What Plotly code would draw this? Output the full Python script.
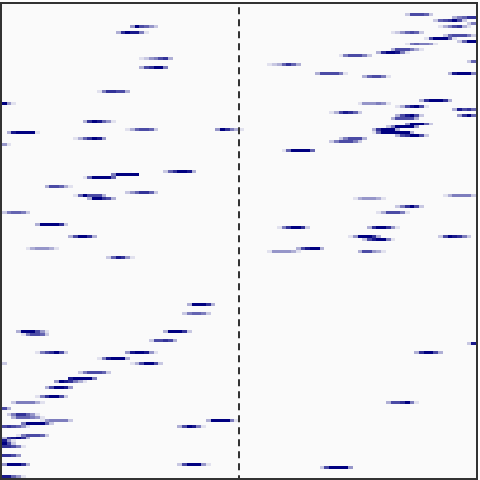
import numpy as np
import plotly.graph_objects as go

N_ROWS = 160
N_COLS = 100

# streaks: row index, starting column, intensity levels (0-10) along the row
streak_rows = [7, 9, 18, 21, 29, 33, 39, 42, 43, 45, 47, 42, 20, 23, 49,
               3, 4, 5, 6, 7, 9, 10, 11, 12, 13, 15, 16, 17, 19, 23, 24,
               32, 33, 34, 35, 36, 37, 37, 38, 40, 41, 42, 43, 44, 45, 46,
               64, 65, 68, 70, 75, 75, 78, 78, 79, 82, 83, 83,
               114, 117, 134, 156,
               56, 57, 58, 61, 63, 64, 65, 70, 74, 78, 82, 85,
               101, 104, 110, 110, 111, 113, 117, 117, 119, 121, 121, 124, 126,
               127, 129, 132, 134, 136, 138, 139, 140, 140, 141, 142, 142, 145,
               146, 147, 148, 149, 152, 155, 155, 159]
streak_cols = [27, 24, 29, 29, 20, 0, 17, 26, 1, 15, 0, 45, 56, 66, 59,
               85, 95, 91, 98, 92, 82, 93, 89, 96, 85, 82, 79, 71, 98, 94, 76,
               88, 75, 83, 95, 69, 83, 96, 82, 85, 81, 78, 78, 83, 71, 69,
               93, 74, 83, 79, 58, 77, 73, 92, 76, 62, 56, 75,
               98, 87, 81, 67,
               34, 23, 17, 9, 26, 15, 18, 0, 7, 14, 5, 22,
               39, 38, 34, 3, 4, 31, 7, 26, 20, 0, 27, 16, 14,
               11, 9, 7, 2, 0, 1, 2, 8, 43, 4, 37, 0, 3,
               0, 0, 0, 0, 0, 0, 37, 0]
streak_levels = [
    [4, 10, 7, 6, 4, 2], [3, 8, 10, 9, 9, 5, 1], [1, 2, 4, 5, 7, 8, 3],
    [3, 7, 8, 10, 10, 5], [1, 5, 8, 8, 7, 7, 3], [10, 4, 1],
    [3, 8, 10, 9, 6, 4, 1], [1, 3, 6, 7, 7, 6, 2], [3, 9, 10, 10, 10, 10, 1],
    [1, 3, 6, 8, 10, 9, 4], [4, 1], [4, 10, 8, 5, 3, 1],
    [1, 2, 3, 6, 8, 6, 3], [3, 7, 7, 7, 7, 5, 1], [1, 6, 10, 10, 10, 10, 6],
    [2, 7, 7, 7, 6, 2], [3, 5, 6, 8, 8], [2, 6, 7, 8, 10, 7, 2], [2, 5],
    [1, 3, 5, 7, 8, 3, 1], [1, 2, 4, 6, 7, 6, 2], [2, 6, 7, 7, 7, 5, 2],
    [1, 7, 10, 10, 10, 6, 1], [2, 6, 10, 10], [1, 5, 6, 5, 5, 4, 1],
    [3, 7, 7, 7, 5, 3, 1], [3, 8, 10, 10, 9, 5, 1], [1, 5, 7, 7, 7, 5, 2],
    [2, 6], [3, 9, 10, 10, 10, 5], [3, 6, 7, 7, 5, 1],
    [3, 8, 10, 10, 10, 8, 3], [1, 4, 4, 4, 5, 4, 1], [1, 3, 7, 9, 10, 7, 1],
    [3, 9, 7, 8, 6], [1, 3, 7, 9, 8, 6, 2], [3, 7, 9, 10, 7, 2], [4, 8, 10, 6],
    [3, 7, 7, 7, 7, 3], [4, 10, 10, 10, 6, 2], [2, 5, 10, 10, 10, 10, 4],
    [3, 8, 10, 10, 10, 3], [1, 6, 10, 10, 10, 10, 10, 10, 3],
    [3, 7, 8, 10, 10, 7, 2], [2, 5, 7, 7, 7, 3], [2, 5, 7, 7, 7, 5, 2],
    [1, 3, 5, 5, 5, 5, 2], [1, 3, 4, 4, 4, 3, 1], [2, 5, 8, 10, 7, 2],
    [1, 3, 7, 7, 7, 5, 1], [1, 5, 8, 10, 10, 8, 2], [3, 8, 10, 10, 8, 4, 1],
    [1, 4, 10, 10, 10, 8, 3], [2, 7, 10, 9, 8, 5, 2], [2, 7, 9, 10, 10, 5, 1],
    [3, 7, 9, 10, 10, 3], [1, 4, 4, 4, 4, 3, 1], [3, 7, 7, 4, 3, 1],
    [2, 9], [3, 8, 10, 10, 7, 3], [3, 7, 7, 8, 10, 5, 1], [2, 7, 10, 10, 10, 10, 4],
    [2, 6, 8, 10, 10, 9, 3], [5, 10, 10, 10, 10, 10], [1, 6, 10, 10, 10, 10, 6],
    [3, 7, 7, 6, 3, 1], [2, 4, 6, 8, 8, 6, 2], [1, 6, 10, 7, 7, 7, 3],
    [3, 10, 10, 8, 7, 3], [2, 5, 6, 6, 5, 2], [3, 10, 10, 10, 10, 8, 2],
    [3, 7, 10, 10, 8, 3], [1, 3, 4, 4, 4, 3, 1], [2, 6, 9, 8, 4, 1],
    [3, 10, 10, 10, 8, 3], [2, 5, 6, 6, 5, 2], [3, 10, 10, 10, 8, 2],
    [3, 10, 10, 10, 7, 4, 1], [1, 5, 7, 7, 6, 2], [2, 7, 7, 8, 7, 3],
    [1, 5, 7, 8, 10, 7, 2], [4, 9, 10, 10, 9, 4, 1], [1, 5, 9, 10, 10, 10, 3],
    [2], [1, 3, 7, 10, 10, 7, 2], [2, 5, 7, 7, 7, 6, 2], [9, 10, 10, 10, 10, 5],
    [4, 10, 9, 8, 5, 3, 1], [3, 7, 10, 10, 9, 4], [1, 5, 8, 10, 10, 7, 2],
    [2, 5, 5, 5, 5, 3, 1], [7, 3], [2, 5, 8, 8, 6, 4, 1], [3, 6, 6, 6, 5, 4, 1],
    [1, 4, 5, 5, 5, 5, 2], [3, 10, 10, 10, 10, 5, 1], [5, 10, 10, 10, 10, 6, 2],
    [3, 7, 10, 9, 5, 1], [7, 8, 7, 6, 4, 1], [1, 5, 7, 7, 7, 6, 2],
    [3, 8, 9, 10, 8, 3], [9, 4, 1], [10, 7, 2], [8, 8, 7, 5, 1], [8, 8, 7, 4],
    [4, 10, 10, 10, 8, 3], [2, 7, 10, 10, 10, 4, 1], [9, 9, 6, 4, 1],
]

divider_col = 49.5

z = np.zeros((N_ROWS, N_COLS))
for r, c, lv in zip(streak_rows, streak_cols, streak_levels):
    for k, v in enumerate(lv):
        if 0 <= c + k < N_COLS:
            z[r, c + k] = max(z[r, c + k], v / 10.0)

fig = go.Figure(go.Heatmap(
    z=z,
    x=list(range(N_COLS)),
    y=list(range(N_ROWS)),
    colorscale=[[0, '#fafafa'], [1, '#000080']],
    zmin=0, zmax=1,
    showscale=False,
    zsmooth=False,
    hoverinfo='skip',
))

fig.add_shape(type='line', xref='x', yref='y',
              x0=divider_col, x1=divider_col, y0=-3.42, y1=N_ROWS - 0.5,
              line=dict(color='#333333', width=2, dash='7px,5px'))

fig.update_layout(
    width=480, height=480,
    margin=dict(l=2, r=2, t=2, b=2, pad=0),
    paper_bgcolor='white',
    plot_bgcolor='#fafafa',
    showlegend=False,
)
fig.update_xaxes(range=[-0.5, N_COLS - 0.5], showgrid=False, zeroline=False,
                 showticklabels=False, ticks='', showline=True, mirror=True,
                 linecolor='#333333', linewidth=2)
fig.update_yaxes(range=[N_ROWS - 0.5, -0.5], showgrid=False, zeroline=False,
                 showticklabels=False, ticks='', showline=True, mirror=True,
                 linecolor='#333333', linewidth=2)

fig.write_html("out.html")
